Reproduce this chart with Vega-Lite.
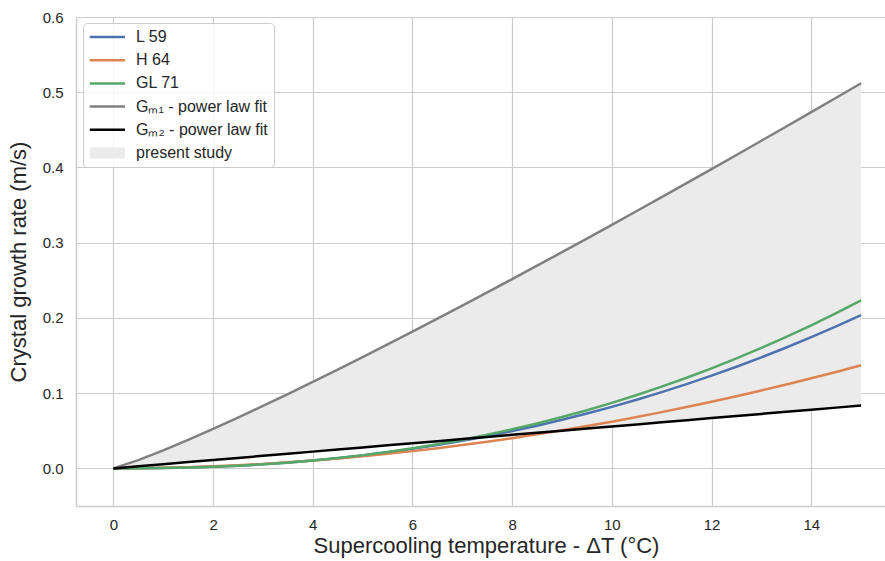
{
  "$schema": "https://vega.github.io/schema/vega-lite/v6.json",
  "width": 809,
  "height": 489,
  "autosize": {"type": "none"},
  "padding": {"left": 76, "top": 17, "right": 0, "bottom": 55},
  "config": {
    "font": "Liberation Sans",
    "view": {"stroke": null},
    "axis": {
      "gridColor": "#cccccc",
      "gridWidth": 1.2,
      "domainColor": "#cccccc",
      "domainWidth": 1.5,
      "ticks": false,
      "labelColor": "#262626",
      "titleColor": "#262626",
      "labelFontSize": 15,
      "titleFontSize": 22,
      "titleFontWeight": "normal"
    }
  },
  "data": {
    "values": [
      {"x": 0, "L59": 0, "H64": 0, "GL71": 0, "Gm1": 0, "Gm2": 0},
      {"x": 0.5, "L59": 0.0000967, "H64": 0.00018, "GL71": 0.0000835, "Gm1": 0.01097, "Gm2": 0.00279},
      {"x": 1, "L59": 0.00046, "H64": 0.000697, "GL71": 0.000417, "Gm1": 0.024, "Gm2": 0.00557},
      {"x": 1.5, "L59": 0.001145, "H64": 0.001537, "GL71": 0.001068, "Gm1": 0.03795, "Gm2": 0.00836},
      {"x": 2, "L59": 0.002188, "H64": 0.002693, "GL71": 0.002082, "Gm1": 0.05253, "Gm2": 0.01114},
      {"x": 2.5, "L59": 0.003615, "H64": 0.004161, "GL71": 0.003494, "Gm1": 0.06759, "Gm2": 0.01393},
      {"x": 3, "L59": 0.005449, "H64": 0.005938, "GL71": 0.005335, "Gm1": 0.08305, "Gm2": 0.01671},
      {"x": 3.5, "L59": 0.007708, "H64": 0.00802, "GL71": 0.007629, "Gm1": 0.09886, "Gm2": 0.0195},
      {"x": 4, "L59": 0.01041, "H64": 0.01041, "GL71": 0.0104, "Gm1": 0.115, "Gm2": 0.02228},
      {"x": 4.5, "L59": 0.01357, "H64": 0.01309, "GL71": 0.01367, "Gm1": 0.1313, "Gm2": 0.02507},
      {"x": 5, "L59": 0.0172, "H64": 0.01608, "GL71": 0.01744, "Gm1": 0.1479, "Gm2": 0.02785},
      {"x": 5.5, "L59": 0.02131, "H64": 0.01936, "GL71": 0.02176, "Gm1": 0.1648, "Gm2": 0.03064},
      {"x": 6, "L59": 0.02592, "H64": 0.02295, "GL71": 0.02664, "Gm1": 0.1818, "Gm2": 0.03342},
      {"x": 6.5, "L59": 0.03103, "H64": 0.02681, "GL71": 0.03207, "Gm1": 0.199, "Gm2": 0.03621},
      {"x": 7, "L59": 0.03667, "H64": 0.03099, "GL71": 0.03808, "Gm1": 0.2164, "Gm2": 0.03899},
      {"x": 7.5, "L59": 0.04282, "H64": 0.03545, "GL71": 0.0447, "Gm1": 0.2339, "Gm2": 0.04178},
      {"x": 8, "L59": 0.04951, "H64": 0.0402, "GL71": 0.05191, "Gm1": 0.2516, "Gm2": 0.04456},
      {"x": 8.5, "L59": 0.05675, "H64": 0.04525, "GL71": 0.05976, "Gm1": 0.2694, "Gm2": 0.04735},
      {"x": 9, "L59": 0.06454, "H64": 0.05059, "GL71": 0.06823, "Gm1": 0.2874, "Gm2": 0.05013},
      {"x": 9.5, "L59": 0.07289, "H64": 0.05621, "GL71": 0.07736, "Gm1": 0.3055, "Gm2": 0.05292},
      {"x": 10, "L59": 0.0818, "H64": 0.06212, "GL71": 0.08712, "Gm1": 0.3237, "Gm2": 0.0557},
      {"x": 10.5, "L59": 0.0913, "H64": 0.06832, "GL71": 0.09757, "Gm1": 0.3421, "Gm2": 0.05849},
      {"x": 11, "L59": 0.1014, "H64": 0.07481, "GL71": 0.1087, "Gm1": 0.3606, "Gm2": 0.06127},
      {"x": 11.5, "L59": 0.112, "H64": 0.08158, "GL71": 0.1205, "Gm1": 0.3792, "Gm2": 0.06406},
      {"x": 12, "L59": 0.1233, "H64": 0.08864, "GL71": 0.133, "Gm1": 0.3978, "Gm2": 0.06684},
      {"x": 12.5, "L59": 0.1351, "H64": 0.09598, "GL71": 0.1462, "Gm1": 0.4166, "Gm2": 0.06963},
      {"x": 13, "L59": 0.1476, "H64": 0.1036, "GL71": 0.1601, "Gm1": 0.4355, "Gm2": 0.07241},
      {"x": 13.5, "L59": 0.1607, "H64": 0.1115, "GL71": 0.1748, "Gm1": 0.4545, "Gm2": 0.0752},
      {"x": 14, "L59": 0.1744, "H64": 0.1197, "GL71": 0.1902, "Gm1": 0.4735, "Gm2": 0.07798},
      {"x": 14.5, "L59": 0.1887, "H64": 0.1282, "GL71": 0.2063, "Gm1": 0.4927, "Gm2": 0.08077},
      {"x": 15, "L59": 0.2037, "H64": 0.137, "GL71": 0.2233, "Gm1": 0.5119, "Gm2": 0.08355}
    ]
  },
  "layer": [
    {
      "mark": {"type": "area", "color": "#ebebeb", "opacity": 1},
      "encoding": {
        "x": {
          "field": "x",
          "type": "quantitative",
          "scale": {"domain": [-0.75, 15.48], "nice": false, "zero": false},
          "axis": {
            "title": "Supercooling temperature - ΔT (°C)",
            "values": [0, 2, 4, 6, 8, 10, 12, 14],
            "labelPadding": 11,
            "titlePadding": 3,
            "titleX": 410
          }
        },
        "y": {
          "field": "Gm2",
          "type": "quantitative",
          "scale": {"domain": [-0.05, 0.6], "nice": false, "zero": false},
          "axis": {
            "title": "Crystal growth rate (m/s)",
            "values": [0, 0.1, 0.2, 0.3, 0.4, 0.5, 0.6],
            "format": ".1f",
            "labelPadding": 13,
            "titlePadding": 12
          }
        },
        "y2": {"field": "Gm1"}
      }
    },
    {
      "transform": [{"fold": ["L59", "H64", "GL71", "Gm1", "Gm2"], "as": ["s", "v"]}],
      "mark": {"type": "line", "strokeWidth": 2.5},
      "encoding": {
        "x": {"field": "x", "type": "quantitative"},
        "y": {"field": "v", "type": "quantitative"},
        "color": {
          "field": "s",
          "type": "nominal",
          "scale": {
            "domain": ["L59", "H64", "GL71", "Gm1", "Gm2", "present"],
            "range": ["#4c72b0", "#dd8452", "#55a868", "#808080", "#000000", "#ebebeb"]
          },
          "legend": {
            "orient": "none",
            "legendX": 7,
            "legendY": 6,
            "title": null,
            "padding": 6,
            "fillColor": "rgba(255,255,255,0.8)",
            "strokeColor": "#cccccc",
            "cornerRadius": 4,
            "symbolType": "stroke",
            "symbolSize": 256,
            "symbolStrokeWidth": 2.5,
            "rowPadding": 7.2,
            "labelFontSize": 16,
            "labelColor": "#262626",
            "labelOffset": 31,
            "labelExpr": "datum.value === 'L59' ? 'L 59' : datum.value === 'H64' ? 'H 64' : datum.value === 'GL71' ? 'GL 71' : datum.value === 'Gm1' ? 'Gₘ₁ - power law fit' : datum.value === 'Gm2' ? 'Gₘ₂ - power law fit' : 'present study'",
            "encode": {
              "symbols": {
                "update": {
                  "shape": {"signal": "datum.value === 'present' ? 'M-0.9,-0.7H3.5V0.7H-0.9Z' : 'M-0.9,0H3.5'"},
                  "fill": {"signal": "datum.value === 'present' ? '#ebebeb' : 'transparent'"},
                  "strokeWidth": {"signal": "datum.value === 'present' ? 0 : 2.5"}
                }
              }
            }
          }
        }
      }
    }
  ]
}
